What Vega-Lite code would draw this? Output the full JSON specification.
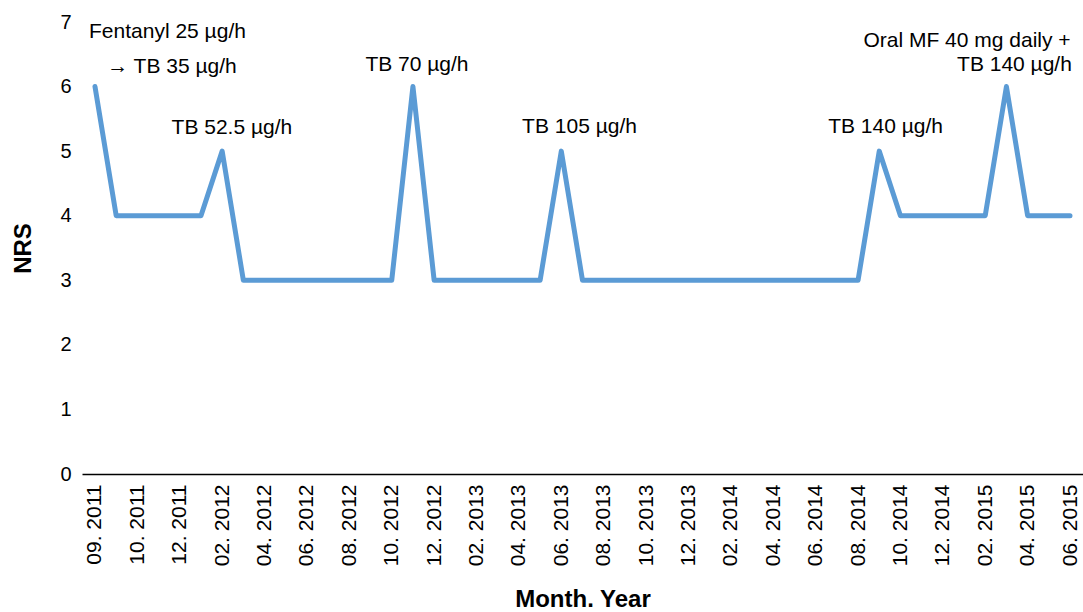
{
  "$schema": "https://vega.github.io/schema/vega-lite/v6.json",
  "autosize": "none",
  "width": 1001,
  "height": 452,
  "padding": {"left": 82, "top": 22, "right": 0, "bottom": 138},
  "background": "white",
  "config": {
    "view": {"stroke": null},
    "font": "Liberation Sans",
    "axis": {"grid": false, "labelColor": "black", "titleColor": "black", "labelFont": "Liberation Sans", "titleFont": "Liberation Sans"}
  },
  "datasets": {
    "nrs": [
      {"month": "09. 2011", "nrs": 6},
      {"month": "09/10. 2011", "nrs": 4},
      {"month": "10. 2011", "nrs": 4},
      {"month": "11. 2011", "nrs": 4},
      {"month": "12. 2011", "nrs": 4},
      {"month": "01. 2012", "nrs": 4},
      {"month": "02. 2012", "nrs": 5},
      {"month": "03. 2012", "nrs": 3},
      {"month": "04. 2012", "nrs": 3},
      {"month": "05. 2012", "nrs": 3},
      {"month": "06. 2012", "nrs": 3},
      {"month": "07. 2012", "nrs": 3},
      {"month": "08. 2012", "nrs": 3},
      {"month": "09. 2012", "nrs": 3},
      {"month": "10. 2012", "nrs": 3},
      {"month": "11. 2012", "nrs": 6},
      {"month": "12. 2012", "nrs": 3},
      {"month": "01. 2013", "nrs": 3},
      {"month": "02. 2013", "nrs": 3},
      {"month": "03. 2013", "nrs": 3},
      {"month": "04. 2013", "nrs": 3},
      {"month": "05. 2013", "nrs": 3},
      {"month": "06. 2013", "nrs": 5},
      {"month": "07. 2013", "nrs": 3},
      {"month": "08. 2013", "nrs": 3},
      {"month": "09. 2013", "nrs": 3},
      {"month": "10. 2013", "nrs": 3},
      {"month": "11. 2013", "nrs": 3},
      {"month": "12. 2013", "nrs": 3},
      {"month": "01. 2014", "nrs": 3},
      {"month": "02. 2014", "nrs": 3},
      {"month": "03. 2014", "nrs": 3},
      {"month": "04. 2014", "nrs": 3},
      {"month": "05. 2014", "nrs": 3},
      {"month": "06. 2014", "nrs": 3},
      {"month": "07. 2014", "nrs": 3},
      {"month": "08. 2014", "nrs": 3},
      {"month": "09. 2014", "nrs": 5},
      {"month": "10. 2014", "nrs": 4},
      {"month": "11. 2014", "nrs": 4},
      {"month": "12. 2014", "nrs": 4},
      {"month": "01. 2015", "nrs": 4},
      {"month": "02. 2015", "nrs": 4},
      {"month": "03. 2015", "nrs": 6},
      {"month": "04. 2015", "nrs": 4},
      {"month": "05. 2015", "nrs": 4},
      {"month": "06. 2015", "nrs": 4}
    ],
    "notes": [
      {"pos": 3.42, "y": 6.84, "text": "Fentanyl 25 µg/h"},
      {"pos": 3.63, "y": 6.31, "text": "→ TB 35 µg/h"},
      {"pos": 6.46, "y": 5.36, "text": "TB 52.5 µg/h"},
      {"pos": 15.19, "y": 6.34, "text": "TB 70 µg/h"},
      {"pos": 22.86, "y": 5.38, "text": "TB 105 µg/h"},
      {"pos": 37.3, "y": 5.38, "text": "TB 140 µg/h"},
      {"pos": 41.14, "y": 6.7, "text": "Oral MF 40 mg daily +"},
      {"pos": 43.38, "y": 6.34, "text": "TB 140 µg/h"}
    ]
  },
  "layer": [
    {
      "data": {"name": "nrs"},
      "mark": {"type": "line", "color": "#5b9bd5", "strokeWidth": 5, "strokeJoin": "round", "strokeCap": "round"},
      "encoding": {
        "x": {
          "field": "month", "type": "ordinal", "sort": null,
          "scale": {"type": "point", "padding": 0.613},
          "title": "Month. Year",
          "axis": {
            "values": ["09. 2011","10. 2011","12. 2011","02. 2012","04. 2012","06. 2012","08. 2012","10. 2012","12. 2012","02. 2013","04. 2013","06. 2013","08. 2013","10. 2013","12. 2013","02. 2014","04. 2014","06. 2014","08. 2014","10. 2014","12. 2014","02. 2015","04. 2015","06. 2015"],
            "labelAngle": 270, "labelFontSize": 21, "labelPadding": 10,
            "ticks": false, "domainColor": "black", "domainWidth": 1.5,
            "titleFontSize": 24, "titleFontWeight": "bold", "titlePadding": 22
          }
        },
        "y": {
          "field": "nrs", "type": "quantitative",
          "scale": {"domain": [0, 7]},
          "title": "NRS",
          "axis": {
            "values": [0,1,2,3,4,5,6,7], "format": "d", "domain": false, "ticks": false,
            "labelFontSize": 20, "labelPadding": 11,
            "titleFontSize": 24, "titleFontWeight": "bold", "titlePadding": 24
          }
        }
      }
    },
    {
      "data": {"name": "notes"},
      "mark": {"type": "text", "fontSize": 21, "color": "black", "align": "center", "baseline": "middle", "font": "Liberation Sans"},
      "encoding": {
        "x": {"field": "pos", "type": "quantitative", "scale": {"domain": [-0.613, 46.613], "nice": false, "zero": false}, "axis": null},
        "y": {"field": "y", "type": "quantitative", "scale": {"domain": [0, 7]}},
        "text": {"field": "text"}
      }
    }
  ],
  "resolve": {"scale": {"x": "independent"}}
}
